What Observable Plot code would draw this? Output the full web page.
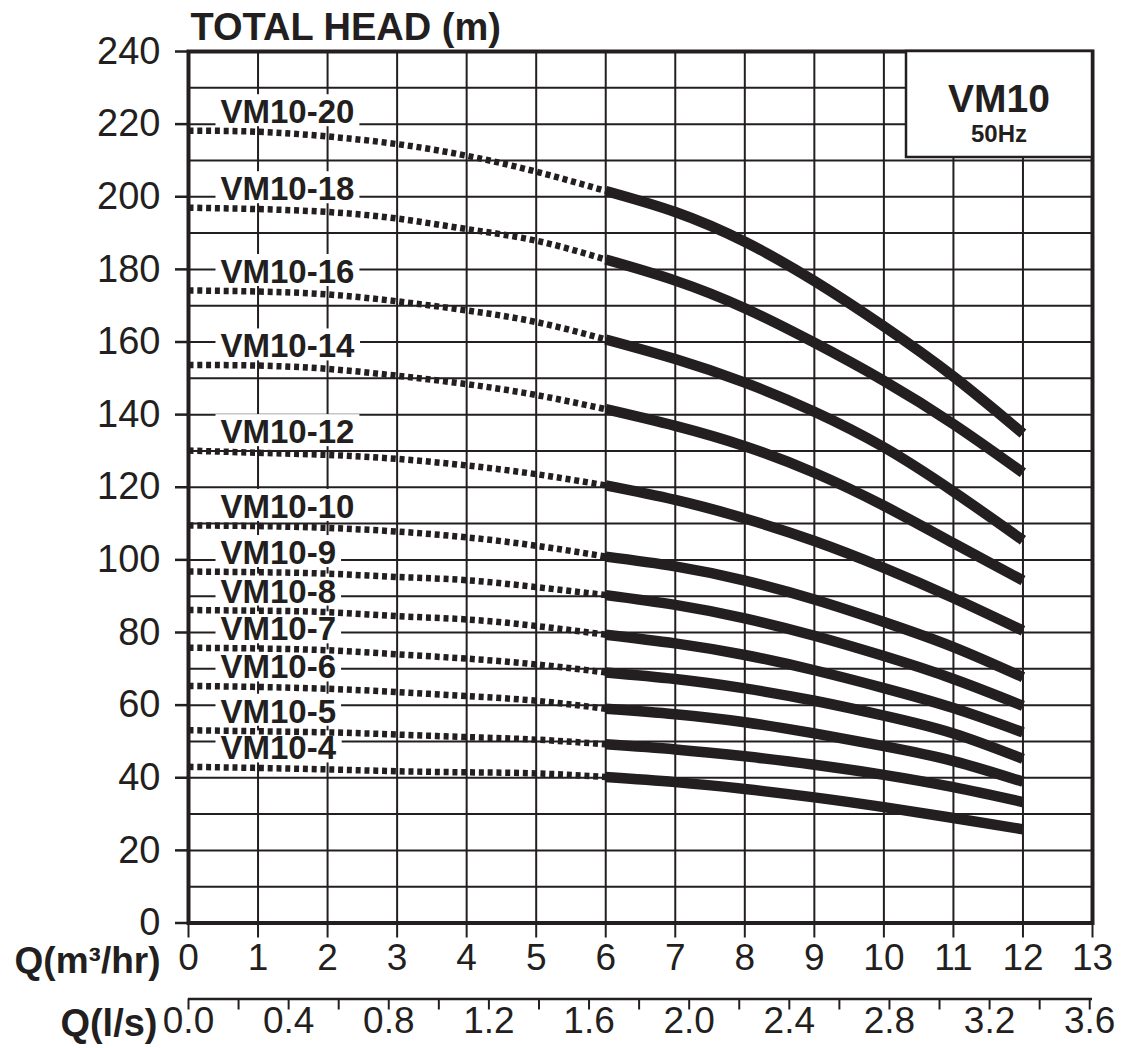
<!DOCTYPE html>
<html><head><meta charset="utf-8">
<script src="https://cdn.jsdelivr.net/npm/d3@7"></script>
<script src="https://cdn.jsdelivr.net/npm/@observablehq/plot@0.6"></script>
<style>
body{margin:0;background:#fff;}
svg{font-family:"Liberation Sans", Arial, Helvetica, sans-serif;}
</style></head><body><div id="chart"></div>
<script>
// ---- data ----
const flow = [0, 1, 2, 3, 4, 5, 6, 7, 8, 9, 10, 11, 12]; // Q (m3/hr)
const models = ["VM10-20","VM10-18","VM10-16","VM10-14","VM10-12","VM10-10","VM10-9","VM10-8","VM10-7","VM10-6","VM10-5","VM10-4"];
const vm10_20 = [218.2, 217.9, 216.6, 214.5, 211.3, 206.9, 201.6, 195.8, 187.6, 176.8, 164.3, 150.5, 134.8];
const vm10_18 = [197.0, 196.6, 195.8, 194.0, 191.1, 187.9, 182.7, 176.9, 169.3, 159.8, 149.3, 137.4, 124.0];
const vm10_16 = [174.2, 173.9, 173.1, 171.2, 168.7, 165.5, 160.7, 155.3, 148.8, 140.8, 131.0, 118.8, 105.4];
const vm10_14 = [153.7, 153.5, 152.6, 150.7, 148.4, 145.4, 141.5, 136.9, 131.3, 124.0, 114.9, 104.6, 94.3];
const vm10_12 = [130.1, 129.5, 128.9, 127.8, 126.0, 123.6, 120.5, 116.5, 111.4, 105.2, 97.8, 89.5, 80.5];
const vm10_10 = [109.5, 109.3, 108.8, 107.8, 106.2, 103.9, 100.9, 98.2, 94.3, 89.1, 82.9, 76.0, 67.7];
const vm10_9  = [96.8, 96.6, 96.2, 95.3, 94.4, 92.5, 90.3, 87.6, 83.9, 79.1, 73.5, 67.2, 59.8];
const vm10_8  = [86.2, 86.0, 85.6, 84.5, 83.6, 81.8, 79.4, 77.0, 73.8, 69.6, 64.7, 59.2, 52.5];
const vm10_7  = [75.8, 75.6, 75.1, 74.0, 72.8, 71.2, 69.0, 67.2, 64.6, 61.2, 57.1, 52.2, 45.2];
const vm10_6  = [65.3, 65.0, 64.5, 63.6, 62.5, 61.2, 59.0, 57.5, 55.3, 52.2, 48.7, 44.6, 38.9];
const vm10_5  = [53.1, 52.8, 52.5, 51.9, 51.2, 50.5, 49.2, 47.8, 45.9, 43.6, 40.8, 37.4, 33.3];
const vm10_4  = [43.0, 42.7, 42.3, 41.8, 41.5, 41.2, 40.2, 38.8, 36.9, 34.6, 31.9, 28.9, 25.8];
const headSets = [vm10_20, vm10_18, vm10_16, vm10_14, vm10_12, vm10_10, vm10_9, vm10_8, vm10_7, vm10_6, vm10_5, vm10_4];
const splitFlow = 6; // dotted below, solid above

const headTicks = [0, 20, 40, 60, 80, 100, 120, 140, 160, 180, 200, 220, 240];
const headGrid = [0,10,20,30,40,50,60,70,80,90,100,110,120,130,140,150,160,170,180,190,200,210,220,230,240];
const flowTicks = [0,1,2,3,4,5,6,7,8,9,10,11,12,13];
const lpsTicks = [0,0.2,0.4,0.6,0.8,1.0,1.2,1.4,1.6,1.8,2.0,2.2,2.4,2.6,2.8,3.0,3.2,3.4,3.6];
const lpsLabels = [0,0.4,0.8,1.2,1.6,2.0,2.4,2.8,3.2,3.6];
const titleText = "TOTAL HEAD (m)";
const qm3Label = "Q(m³/hr)";
const qlsLabel = "Q(l/s)";
const badgeMain = "VM10";
const badgeSub = "50Hz";

// ---- build tables ----
const ink = "#231f20";
const series = models.map((name, i) => ({name, heads: headSets[i]}));
const rows = series.flatMap(s => s.heads.map((h, i) => ({model: s.name, q: flow[i], h})));
const dotted = rows.filter(d => d.q <= splitFlow);
const solid = rows.filter(d => d.q >= splitFlow);
const lpsToM3h = v => v * 3.6;
const isLabel = v => lpsLabels.some(l => Math.abs(l - v) < 1e-6);

const plot = Plot.plot({
  width: 1122, height: 1048,
  marginLeft: 188, marginRight: 30, marginTop: 51, marginBottom: 125.5,
  x: {domain: [0, 13]},
  y: {domain: [0, 240]},
  style: {fontFamily: '"Liberation Sans", Arial, sans-serif', fontSize: "38px", color: ink, background: "#fff", overflow: "visible"},
  marks: [
    Plot.ruleY(headGrid, {stroke: ink, strokeWidth: 2}),
    Plot.ruleX(flowTicks, {stroke: ink, strokeWidth: 2}),
    Plot.axisY(headTicks, {tickSize: 13, tickPadding: 15, fontSize: 38, strokeWidth: 2.5, label: null}),
    Plot.axisX(flowTicks, {tickSize: 15, tickPadding: 6, fontSize: 37, strokeWidth: 2, label: null}),
    Plot.axisX(lpsTicks.map(lpsToM3h), {tickSize: 11, tickPadding: -3, dy: 76, fontSize: 37, strokeWidth: 2, label: null,
      tickFormat: d => { const v = d / 3.6; return isLabel(v) ? v.toFixed(1) : ""; }}),
    Plot.ruleY([0], {x1: 0, x2: 13, dy: 76, stroke: ink, strokeWidth: 2.5}),
    Plot.frame({stroke: ink, strokeWidth: 4}),
    Plot.text([titleText], {text: d => d, frameAnchor: "top-left", dx: 2, dy: -24, lineAnchor: "middle", textAnchor: "start", fontWeight: "bold", fontSize: 38}),
    Plot.text([qm3Label], {text: d => d, frameAnchor: "bottom-left", dx: -28, dy: 38, lineAnchor: "middle", textAnchor: "end", fontWeight: "bold", fontSize: 37}),
    Plot.text([qlsLabel], {text: d => d, frameAnchor: "bottom-left", dx: -31, dy: 101, lineAnchor: "middle", textAnchor: "end", fontWeight: "bold", fontSize: 38}),
    Plot.text([badgeMain], {text: d => d, frameAnchor: "top-right", dx: -93.5, dy: 48, lineAnchor: "middle", textAnchor: "middle", fontWeight: "bold", fontSize: 39}),
    Plot.text([badgeSub], {text: d => d, frameAnchor: "top-right", dx: -93.5, dy: 83, lineAnchor: "middle", textAnchor: "middle", fontWeight: "bold", fontSize: 24}),
    Plot.text(series, {x: () => 0, y: d => d.heads[0], text: "name", dx: 32, dy: -18, lineAnchor: "middle", textAnchor: "start", fontWeight: "bold", fontSize: 33, fill: ink}),
    Plot.line(dotted, {x: "q", y: "h", z: "model", curve: "natural", stroke: ink, strokeWidth: 6.5, strokeDasharray: "5,3.8", strokeLinecap: "butt"}),
    Plot.line(solid, {x: "q", y: "h", z: "model", curve: "natural", stroke: ink, strokeWidth: 10.5, strokeLinecap: "butt"})
  ]
});
document.getElementById("chart").append(plot);

const svgNS = "http://www.w3.org/2000/svg";
const allText = Array.from(plot.querySelectorAll("text"));
// white boxes behind model labels
allText.filter(t => models.includes(t.textContent)).forEach(t => {
  const b = t.getBBox();
  const r = document.createElementNS(svgNS, "rect");
  r.setAttribute("x", b.x - 5); r.setAttribute("y", b.y + 1);
  r.setAttribute("width", b.width + 10); r.setAttribute("height", b.height - 5);
  r.setAttribute("fill", "#fff"); r.setAttribute("stroke", "none");
  const tr = t.getAttribute("transform"); if (tr) r.setAttribute("transform", tr);
  t.parentNode.insertBefore(r, t);
});
// badge box in the top-right corner
const xs = plot.scale("x"), ys = plot.scale("y");
const badgeText = allText.find(t => t.textContent === badgeMain);
if (badgeText) {
  const badgeG = badgeText.parentNode;
  const box = document.createElementNS(svgNS, "rect");
  const bx1 = xs.apply(13) - 186, bx2 = xs.apply(13), by1 = ys.apply(240), by2 = ys.apply(240) + 106;
  box.setAttribute("x", bx1); box.setAttribute("y", by1);
  box.setAttribute("width", bx2 - bx1); box.setAttribute("height", by2 - by1);
  box.setAttribute("fill", "#fff"); box.setAttribute("stroke", ink); box.setAttribute("stroke-width", 2.5);
  badgeG.parentNode.insertBefore(box, badgeG);
}
</script></body></html>
